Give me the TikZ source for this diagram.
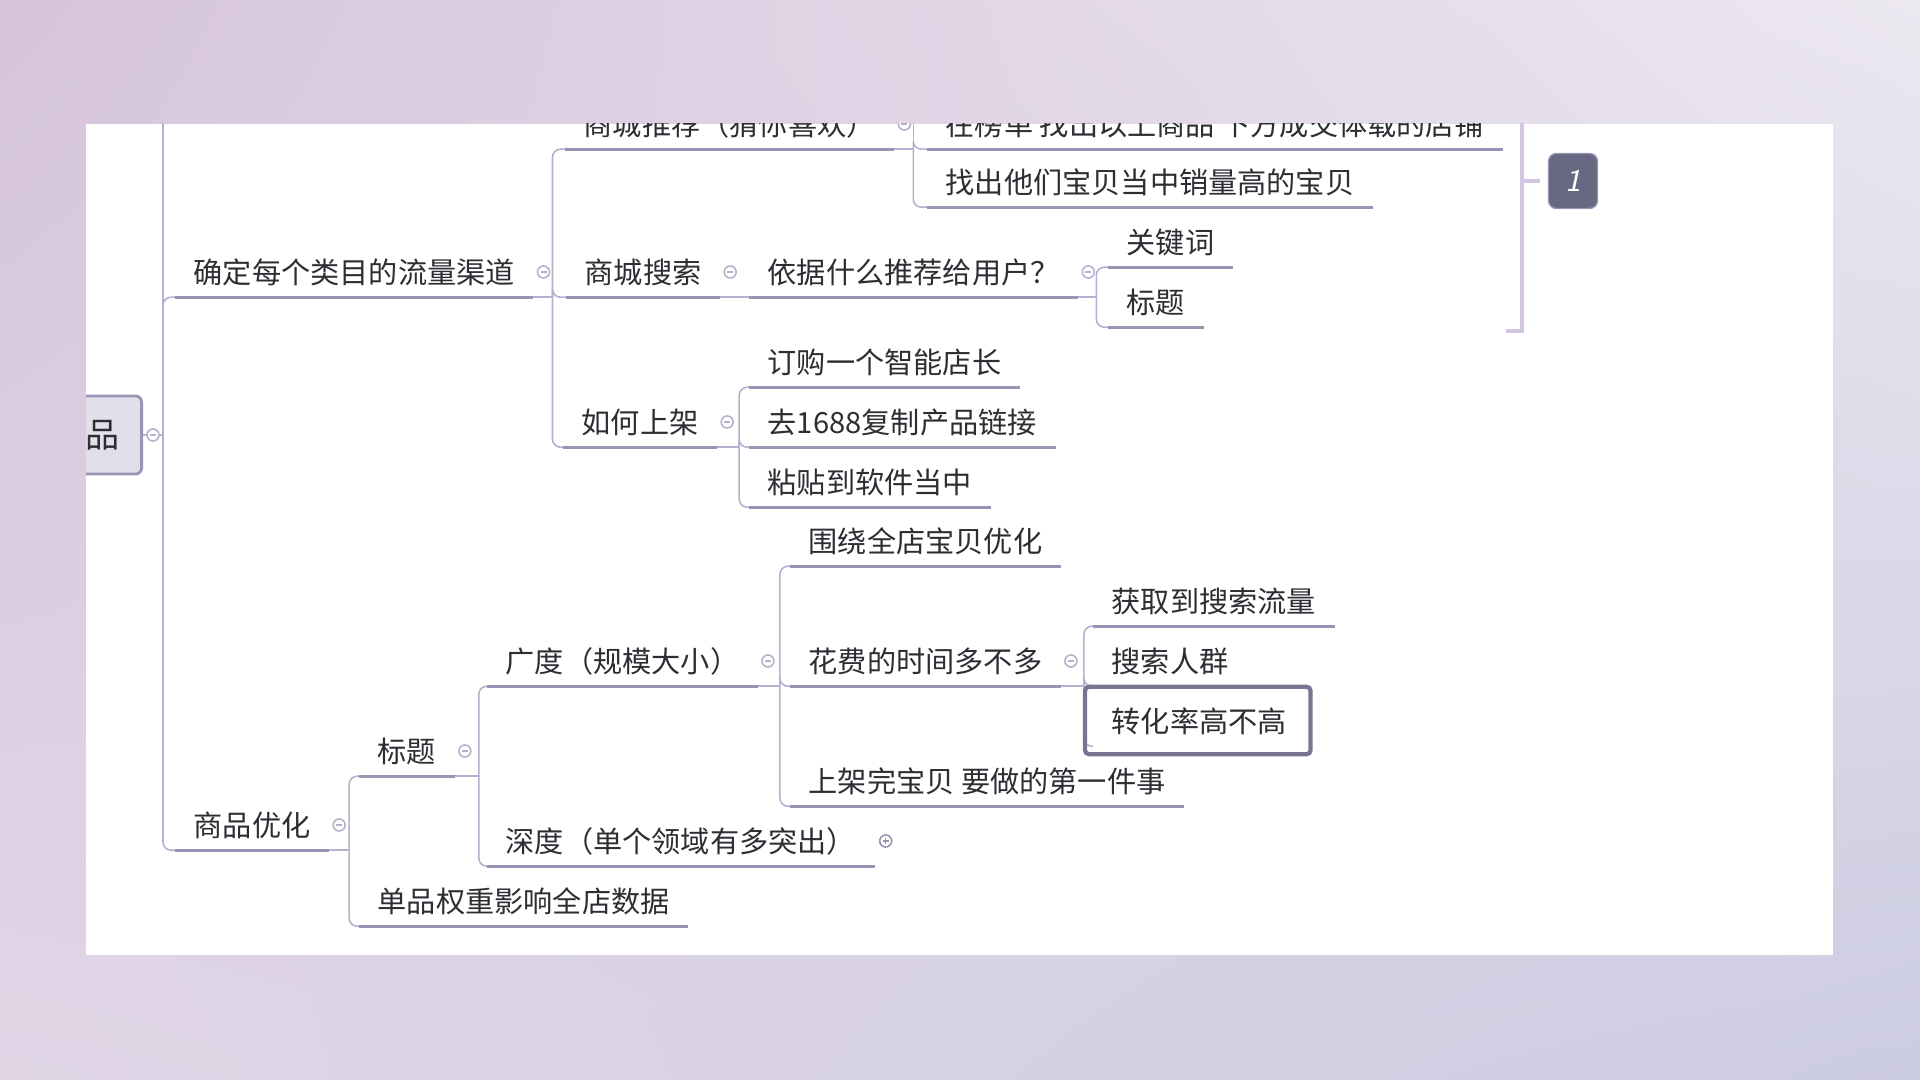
\documentclass[tikz,border=0pt]{standalone}
\usepackage{fontspec}
\newfontfamily\cjk{Noto Sans CJK SC}
\usetikzlibrary{positioning,shadings}
\definecolor{bgul}{RGB}{214,196,220}
\definecolor{bgur}{RGB}{236,232,240}
\definecolor{bgll}{RGB}{224,214,230}
\definecolor{bglr}{RGB}{204,204,226}
\definecolor{txt}{RGB}{45,45,52}
\definecolor{linec}{RGB}{182,176,206}
\definecolor{ulc}{RGB}{152,148,180}
\definecolor{rootfill}{RGB}{226,223,234}
\definecolor{selc}{RGB}{120,116,146}
\definecolor{bracec}{RGB}{212,198,224}
\definecolor{sumfill}{RGB}{104,104,130}
\tikzset{
  topic/.style={anchor=west, inner xsep=0.18cm, inner ysep=0pt, minimum height=0.49cm,
    text=txt, font=\cjk\fontsize{8.3pt}{10pt}\selectfont},
  rootbox/.style={draw=ulc, fill=rootfill, line width=0.8pt, rounded corners=0.06cm,
    minimum height=0.78cm, text width=0.59cm, align=right, inner xsep=0.22cm,
    text=txt, font=\cjk\fontsize{9.7pt}{11pt}\selectfont},
  link/.style={draw=linec, line width=0.45pt},
  branch/.style={link, rounded corners=0.08cm},
  uline/.style={draw=ulc, line width=0.95pt},
  fold/.style={circle, draw=linec, fill=white, line width=0.45pt, minimum size=0.12cm, inner sep=0pt,
    path picture={\draw[linec, line width=0.4pt]
      ([xshift=-0.03cm]path picture bounding box.center) -- ([xshift=0.03cm]path picture bounding box.center);}},
  unfold/.style={fold, draw=ulc,
    path picture={\draw[ulc, line width=0.4pt]
      ([xshift=-0.03cm]path picture bounding box.center) -- ([xshift=0.03cm]path picture bounding box.center)
      ([yshift=-0.03cm]path picture bounding box.center) -- ([yshift=0.03cm]path picture bounding box.center);}},
  selbox/.style={draw=selc, line width=1.2pt, rounded corners=0.04cm},
  brace/.style={draw=bracec, line width=1.4pt},
  sumbox/.style={fill=sumfill, draw=ulc, rounded corners=0.08cm, minimum width=0.49cm,
    minimum height=0.55cm, inner sep=0pt, text=white, font=\sffamily\itshape\small}
}
\begin{document}
\begin{tikzpicture}[x=0.01cm, y=-0.01cm]
% background and panel
\shade[upper left=bgul, upper right=bgur, lower left=bgll, lower right=bglr] (0,0) rectangle (1920,1080);
\fill[white] (86,124) rectangle (1833,955);
\begin{scope}
\clip (86,124) rectangle (1833,955);
% root
\node[rootbox, anchor=east] (root) at (143,435) {品};
% first level
\node[topic] (c1) at (175,272) {确定每个类目的流量渠道};
\node[topic] (c2) at (175,825) {商品优化};
% traffic channels
\node[topic] (d1) at (565,124) {商城推荐（猜你喜欢）};
\node[topic] (d2) at (566,272) {商城搜索};
\node[topic] (d3) at (563,422) {如何上架};
\node[topic] (e1) at (927,124) {在榜单 找出以上商品 下方成交体载的店铺};
\node[topic] (e2) at (927,182) {找出他们宝贝当中销量高的宝贝};
\node[topic] (e3) at (749,272) {依据什么推荐给用户？};
\node[topic] (f1) at (1108,242) {关键词};
\node[topic] (f2) at (1108,302) {标题};
\node[topic] (e4) at (749,362) {订购一个智能店长};
\node[topic] (e5) at (749,422) {去1688复制产品链接};
\node[topic] (e6) at (749,482) {粘贴到软件当中};
% product optimisation
\node[topic] (g1) at (359,751) {标题};
\node[topic] (g2) at (359,901) {单品权重影响全店数据};
\node[topic] (h1) at (487,661) {广度（规模大小）};
\node[topic] (h2) at (487,841) {深度（单个领域有多突出）};
\node[topic] (i1) at (790,541) {围绕全店宝贝优化};
\node[topic] (i2) at (790,661) {花费的时间多不多};
\node[topic] (i3) at (790,781) {上架完宝贝 要做的第一件事};
\node[topic] (j1) at (1093,601) {获取到搜索流量};
\node[topic] (j2) at (1093,661) {搜索人群};
\node[topic] (j3) at (1093,721) {转化率高不高};
% branch points
\coordinate (rootB) at (163,435);
\coordinate (c0) at (175,40);
\coordinate (c1B) at ([xshift=0.19cm]c1.south east);
\coordinate (d1B) at ([xshift=0.19cm]d1.south east);
\coordinate (e0) at (927,60);
\coordinate (d3B) at ([xshift=0.22cm]d3.south east);
\coordinate (e3B) at ([xshift=0.18cm]e3.south east);
\coordinate (c2B) at ([xshift=0.2cm]c2.south east);
\coordinate (g1B) at ([xshift=0.24cm]g1.south east);
\coordinate (h1B) at ([xshift=0.22cm]h1.south east);
\coordinate (i2B) at ([xshift=0.23cm]i2.south east);
% connectors
\draw[link] (root.east) -- (rootB);
\draw[link] (c1.south east) -- (c1B);
\draw[link] (d1.south east) -- (d1B);
\draw[link] (d2.south east) -- (e3.south west);
\draw[link] (d3.south east) -- (d3B);
\draw[link] (e3.south east) -- (e3B);
\draw[link] (c2.south east) -- (c2B);
\draw[link] (g1.south east) -- (g1B);
\draw[link] (h1.south east) -- (h1B);
\draw[link] (i2.south east) -- (i2B);
\draw[link] (rootB) |- (c0);
\draw[link] (d1B) |- (e0);
\foreach \p/\c in {rootB/c1, rootB/c2, c1B/d1, c1B/d2, c1B/d3, d1B/e1, d1B/e2,
    e3B/f1, e3B/f2, d3B/e4, d3B/e5, d3B/e6, c2B/g1, c2B/g2, g1B/h1, g1B/h2,
    h1B/i1, h1B/i2, h1B/i3, i2B/j1, i2B/j2, i2B/j3}
  \draw[branch] (\p) |- (\c.south west);
% underlines
\foreach \n in {c1,c2,d1,d2,d3,e1,e2,e3,e4,e5,e6,f1,f2,g1,g2,h1,h2,i1,i2,i3,j1,j2}
  \draw[uline] (\n.south west) -- (\n.south east);
% fold markers
\foreach \n in {root,c1,c2,d1,d2,d3,e3,g1,h1,i2}
  \node[fold] at ([xshift=0.1cm]\n.east) {};
\node[unfold] at ([xshift=0.11cm]h2.east) {};
% selected topic
\draw[selbox] ([xshift=-0.08cm, yshift=0.09cm]j3.north west) rectangle ([xshift=0.05cm, yshift=-0.08cm]j3.south east);
% summary
\coordinate (brT) at (1522,100);
\coordinate (brB) at (1522,331);
\coordinate (brF) at (1506,331);
\coordinate (brM) at (1522,181);
\node[sumbox] (sum) at (1573,181) {1};
\draw[brace] (brF) -- (brB) -- (brT);
\draw[brace] (brM) -- ([xshift=-0.08cm]sum.west);
\end{scope}
\end{tikzpicture}
\end{document}
